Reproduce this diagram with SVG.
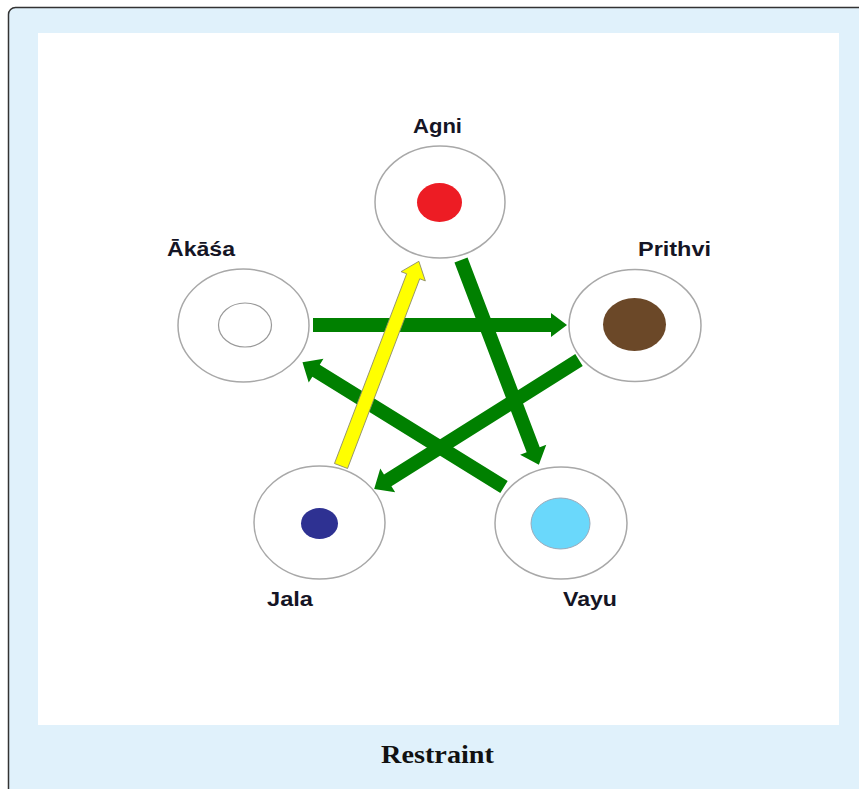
<svg xmlns="http://www.w3.org/2000/svg" width="859" height="789" viewBox="0 0 859 789">
<style>
.outer{fill:#fff;stroke:#a8a8a8;stroke-width:1.5}
.lbl{font-family:"Liberation Sans",Arial,sans-serif;font-weight:bold;font-size:20px;fill:#151525}
.cap{font-family:"Liberation Serif","Times New Roman",serif;font-weight:bold;font-size:25px;fill:#111}
.g{fill:#008000}
.y{fill:#ffff00;stroke:#8a8a6a;stroke-width:0.8}
</style>
<defs>
<polygon id="ah" points="0,-7 -16,-7 -16,-14 0,0"/>
</defs>
<rect x="8.5" y="7.5" width="870" height="800" rx="7" fill="#e0f1fb" stroke="#333" stroke-width="1.5"/>
<rect x="38" y="33" width="801" height="692" fill="#fff"/>
<text class="cap" x="381" y="763" textLength="113" lengthAdjust="spacingAndGlyphs">Restraint</text>

<g id="agni">
<ellipse class="outer" cx="440" cy="202" rx="65" ry="56"/>
<ellipse cx="439.5" cy="202.5" rx="22.5" ry="19.5" fill="#ed1c24"/>
<text class="lbl" x="413" y="133" textLength="49" lengthAdjust="spacingAndGlyphs">Agni</text>
</g>
<g id="akasa">
<ellipse class="outer" cx="243.5" cy="325.5" rx="65.5" ry="56.5"/>
<ellipse cx="245" cy="325" rx="26.5" ry="22" fill="#fff" stroke="#999" stroke-width="1.2"/>
<text class="lbl" x="167" y="256" textLength="68" lengthAdjust="spacingAndGlyphs">Ākāśa</text>
</g>
<g id="prithvi">
<ellipse class="outer" cx="635" cy="325.5" rx="66" ry="56"/>
<ellipse cx="634.5" cy="324.5" rx="31.5" ry="26.5" fill="#6b4828"/>
<text class="lbl" x="638" y="256" textLength="73" lengthAdjust="spacingAndGlyphs">Prithvi</text>
</g>
<g id="jala">
<ellipse class="outer" cx="319.5" cy="522.5" rx="65.5" ry="56.5"/>
<ellipse cx="319.5" cy="523.5" rx="18.5" ry="15.5" fill="#2e3192"/>
<text class="lbl" x="267" y="606" textLength="46" lengthAdjust="spacingAndGlyphs">Jala</text>
</g>
<g id="vayu">
<ellipse class="outer" cx="561" cy="523" rx="66" ry="56"/>
<ellipse cx="560.5" cy="523.5" rx="29.5" ry="25.5" fill="#6ad8fb" stroke="#9ab" stroke-width="1"/>
<text class="lbl" x="563" y="606" textLength="54" lengthAdjust="spacingAndGlyphs">Vayu</text>
</g>

<g id="connectors">
<polygon class="g" transform="translate(313,325)" points="0,-7 238,-7 238,-12 254,0 238,12 238,7 0,7"/>
<polygon class="g" transform="translate(461,260) rotate(69.17)" points="0,-7 203,-7 203,-14 219,0 203,14 203,7 0,7"/>
<polygon class="g" transform="translate(504,487) rotate(-148.25)" points="0,-7 221,-7 221,-14 237,0 221,14 221,7 0,7"/>
<polygon class="g" transform="translate(579,360) rotate(147.82)" points="0,-7 226,-7 226,-14 242,0 226,14 226,7 0,7"/>
<polygon class="y" transform="translate(341,466) rotate(-69.17)" points="0,-7 203,-7 203,-13 219,0 203,13 203,7 0,7"/>
</g>
</svg>
